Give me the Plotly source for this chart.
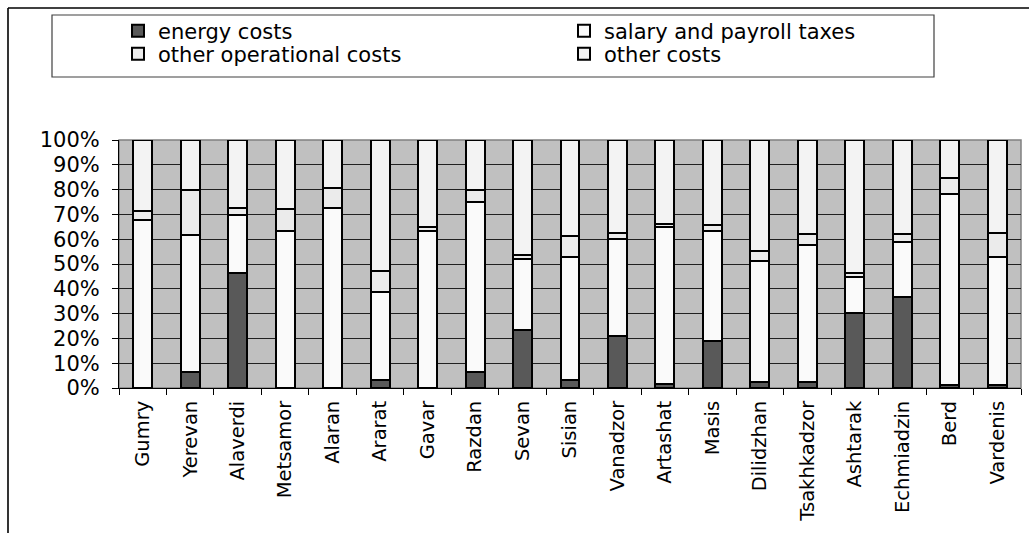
import plotly.graph_objects as go

# Towns and cost-structure shares (percent of total costs)
towns = ["Gumry", "Yerevan", "Alaverdi", "Metsamor", "Alaran", "Ararat", "Gavar",
         "Razdan", "Sevan", "Sisian", "Vanadzor", "Artashat", "Masis", "Dilidzhan",
         "Tsakhkadzor", "Ashtarak", "Echmiadzin", "Berd", "Vardenis"]

energy_costs = [0.0, 6.4, 46.3, 0.0, 0.0, 3.4, 0.0, 6.4, 23.5, 3.4, 21.1, 1.6,
                18.8, 2.4, 2.4, 30.2, 36.6, 1.3, 1.3]
salary_payroll = [67.8, 55.3, 23.5, 63.4, 72.5, 35.5, 63.4, 68.5, 28.4, 49.4, 39.0,
                  63.5, 44.6, 48.9, 55.3, 14.4, 22.1, 76.8, 51.7]
other_operational = [3.7, 18.2, 2.7, 8.8, 8.0, 8.3, 1.7, 5.0, 1.8, 8.3, 2.3, 0.9,
                     2.4, 4.1, 4.3, 1.7, 3.3, 6.5, 9.7]
other_costs = [28.5, 20.1, 27.5, 27.8, 19.5, 52.8, 34.9, 20.1, 46.3, 38.9, 37.6,
               34.0, 34.2, 44.6, 38.0, 53.7, 38.0, 15.4, 37.3]

y_ticks = list(range(0, 101, 10))
y_tick_labels = ["0%", "10%", "20%", "30%", "40%", "50%", "60%", "70%", "80%",
                 "90%", "100%"]

# Figure geometry (pixels)
W, H = 1029, 533
PL, PR, PT, PB = 119, 1021, 140, 388  # plot area edges


def px_x(x):
    return (x - PL) / (PR - PL)


def px_y(y):
    return (PB - y) / (PB - PT)


FONT = "DejaVu Sans"
series = [
    ("energy costs", energy_costs, "#595959", "legend"),
    ("salary and payroll taxes", salary_payroll, "#FAFAFA", "legend"),
    ("other operational costs", other_operational, "#EBEBEB", "legend2"),
    ("other costs", other_costs, "#F3F3F3", "legend2"),
]

fig = go.Figure()
for name, vals, color, lg in series:
    fig.add_trace(go.Bar(
        x=towns, y=vals, name=name, legend=lg,
        marker=dict(color=color, line=dict(color="#000000", width=2)),
    ))

legend_common = dict(
    orientation="h", xanchor="left", yanchor="middle",
    font=dict(family=FONT, size=21, color="#000000"),
    bgcolor="rgba(0,0,0,0)", borderwidth=0,
    entrywidth=401, entrywidthmode="pixels",
    itemsizing="constant", traceorder="normal",
)

fig.update_layout(
    width=W, height=H, autosize=False,
    margin=dict(l=PL, r=W - PR, t=PT, b=H - PB, pad=0),
    paper_bgcolor="#FFFFFF", plot_bgcolor="#C0C0C0",
    barmode="stack", bargap=0.6,
    font=dict(family=FONT, size=21, color="#000000"),
    legend=dict(x=px_x(118), y=px_y(31), **legend_common),
    legend2=dict(x=px_x(118), y=px_y(54), **legend_common),
    xaxis=dict(
        type="category", tickangle=-90, tickson="boundaries",
        ticks="outside", ticklen=6, tickcolor="#000000", tickwidth=1,
        showline=True, linecolor="#000000", linewidth=1,
        showgrid=False, tickfont=dict(family=FONT, size=19.5),
        ticklabelstandoff=4,
    ),
    yaxis=dict(
        range=[0, 100], tickmode="array", tickvals=y_ticks, ticktext=y_tick_labels,
        ticks="outside", ticklen=6, tickcolor="#000000", tickwidth=1,
        showline=True, linecolor="#000000", linewidth=1,
        showgrid=True, gridcolor="#202020", gridwidth=1,
        zeroline=False, tickfont=dict(family=FONT, size=21),
        ticklabelstandoff=8,
    ),
    shapes=[
        # plot-area frame
        dict(type="rect", xref="paper", yref="paper", x0=0, x1=1, y0=0, y1=1,
             line=dict(color="#808080", width=1.5), layer="below"),
        # legend frame
        dict(type="rect", xref="paper", yref="paper",
             x0=px_x(52), x1=px_x(934), y0=px_y(77), y1=px_y(15),
             line=dict(color="#404040", width=1.2)),
        # chart-area frame (top and left edges)
        dict(type="line", xref="paper", yref="paper",
             x0=px_x(8), x1=px_x(W + 5), y0=px_y(8), y1=px_y(8),
             line=dict(color="#000000", width=1.6)),
        dict(type="line", xref="paper", yref="paper",
             x0=px_x(8), x1=px_x(8), y0=px_y(8), y1=px_y(H + 5),
             line=dict(color="#000000", width=1.6)),
    ],
)

fig.write_html("out.html")
